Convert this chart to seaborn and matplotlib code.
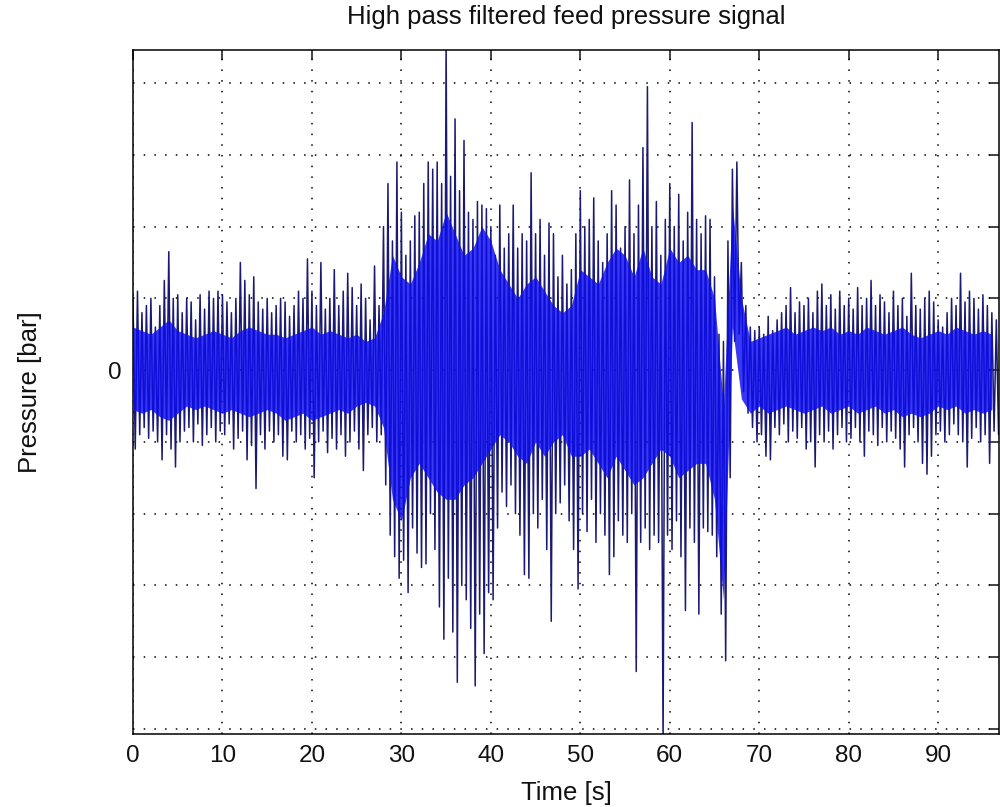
import numpy as np
import pandas as pd
import matplotlib
matplotlib.use("Agg")
import matplotlib.pyplot as plt
import seaborn as sns

# Peak excursions of the filtered pressure signal, one upper and one lower
# extreme every 0.5 s (in grid units, 0 = mean pressure)
peak_hi = [
    1.0, 1.1, 0.8, 0.9, 1.0, 0.6, 0.9, 1.25, 1.65, 1.0, 1.05, 0.8, 1.0, 0.95, 0.7, 1.05,
    0.85, 1.1, 1.0, 1.1, 1.05, 0.95, 0.8, 1.0, 1.5, 1.25, 1.05, 1.3, 0.95, 0.85, 1.0, 0.8,
    0.9, 1.0, 0.95, 0.75, 0.9, 1.1, 1.0, 1.55, 1.1, 0.9, 1.5, 0.85, 1.0, 1.4, 0.9, 1.1,
    1.35, 1.15, 0.9, 1.2, 1.0, 0.7, 1.45, 0.9,
    2.0, 2.6, 1.8, 2.9, 2.2, 1.6, 1.8, 2.15,
    2.2, 2.6, 2.9, 2.8, 2.9, 2.6, 4.6, 2.7,
    3.5, 2.5, 3.2, 2.2, 2.1, 2.35, 2.3, 2.25,
    2.0, 1.6, 2.3, 1.7, 1.9, 2.3, 1.7, 1.9,
    1.8, 2.75, 1.9, 2.1, 1.6, 2.05, 1.9, 1.3,
    1.6, 1.2, 1.4, 1.9, 2.5, 2.0, 2.1, 2.4,
    1.8, 1.5, 1.9, 2.5, 2.3, 1.7, 2.0, 2.65,
    1.9, 2.3, 3.1, 3.95, 2.0, 2.35, 1.6, 2.1,
    2.6, 2.0, 2.45, 1.8, 2.2, 3.45, 2.1, 1.9,
    2.15, 2.1, 1.3, 0.5, 0.4, 1.8, 2.8, 2.9,
    1.5, 0.9, 0.6, 0.55, 0.6, 0.5, 0.75, 0.55,
    0.7, 0.8, 0.9, 1.15, 0.8, 0.95, 0.9, 1.0,
    0.8, 1.1, 1.2, 0.9, 1.05, 0.85, 1.1, 0.9,
    1.0, 0.85, 1.15, 0.9, 1.0, 1.25, 0.9, 1.05,
    0.95, 0.8, 1.1, 0.9, 1.0, 0.75, 1.35, 0.9,
    0.85, 1.0, 1.1, 0.95, 0.7, 0.6, 0.8, 1.0,
    0.9, 1.35, 0.95, 1.1, 1.0, 0.85, 1.05, 0.9, 0.8, 0.7,
]
peak_lo = [
    -1.1, -0.9, -0.8, -0.95, -0.85, -1.0, -1.25, -0.9, -1.1, -1.35, -1.0, -0.85, -0.8, -1.0,
    -0.75, -1.05, -0.9, -0.8, -1.0, -0.85, -0.9, -0.75, -1.1, -0.95, -0.85, -1.25, -1.05,
    -1.65, -0.9, -1.1, -0.85, -1.0, -0.9, -1.2, -1.25, -0.85, -1.0, -0.9, -1.1, -0.95,
    -1.5, -1.0, -0.85, -1.15, -0.95, -1.1, -0.9, -1.2, -1.0, -0.85, -1.1, -1.4, -0.9,
    -0.8, -1.0, -0.9,
    -1.6, -2.3, -2.6, -2.9, -2.65, -3.1, -2.2, -2.55,
    -2.75, -2.7, -2.0, -2.5, -3.3, -3.75, -2.9, -3.65,
    -4.35, -3.0, -3.2, -3.6, -4.4, -3.4, -3.95, -3.1,
    -3.2, -2.2, -1.7, -1.9, -1.6, -2.0, -2.3, -2.85,
    -2.9, -2.0, -2.2, -1.8, -2.5, -3.5, -2.0, -1.85,
    -1.6, -2.1, -2.5, -3.05, -2.0, -2.25, -1.8, -2.4,
    -2.0, -2.3, -2.85, -2.6, -2.1, -2.3, -2.4, -2.0,
    -4.2, -2.4, -2.2, -2.5, -2.3, -2.4, -5.2, -2.3,
    -2.5, -2.1, -2.6, -3.35, -2.2, -2.4, -3.4, -2.2,
    -2.25, -2.3, -2.6, -3.4, -4.05, -1.5, 0.4, 0.5,
    -0.3, -0.6, -0.8, -1.0, -0.9, -1.2, -1.25, -0.8,
    -0.9, -0.75, -1.0, -0.85, -0.95, -0.8, -1.1, -1.0,
    -1.35, -0.9, -1.0, -0.85, -1.1, -0.9, -0.8, -1.0,
    -0.95, -0.8, -1.0, -1.2, -0.85, -0.9, -1.05, -0.8,
    -1.0, -0.85, -0.95, -1.1, -1.35, -0.9, -0.8, -1.0,
    -1.3, -1.45, -1.2, -0.9, -0.85, -1.0, -0.9, -0.75,
    -0.9, -1.0, -1.35, -0.95, -0.8, -1.0, -0.9, -1.3, -0.85, -0.9,
]

# Dense core of the signal, upper and lower edge once per second
core_hi = [
    0.6, 0.55, 0.5, 0.6, 0.7, 0.55, 0.5, 0.45, 0.5, 0.55, 0.5, 0.45, 0.55, 0.6,
    0.55, 0.5, 0.5, 0.45, 0.5, 0.55, 0.6, 0.5, 0.55, 0.5, 0.45, 0.5, 0.4, 0.45,
    0.8, 1.6, 1.3, 1.2, 1.5, 1.9, 1.8, 2.2, 1.9, 1.6, 1.7, 2.0, 1.8, 1.4, 1.2, 1.0,
    1.2, 1.3, 1.1, 0.9,
    0.8, 0.9, 1.4, 1.3, 1.2, 1.5, 1.7, 1.6, 1.3, 1.7, 1.3, 1.2, 1.7, 1.5, 1.6, 1.4,
    1.4, 1.0, -0.5, 2.3, 1.0, 0.4,
    0.45, 0.5, 0.55, 0.6, 0.5, 0.55, 0.6, 0.55, 0.6, 0.5, 0.55, 0.5, 0.6, 0.55,
    0.5, 0.55, 0.6, 0.5, 0.45, 0.5, 0.55, 0.5, 0.6, 0.55, 0.5, 0.55, 0.5,
]
core_lo = [
    -0.55, -0.6, -0.55, -0.65, -0.7, -0.6, -0.5, -0.55, -0.5, -0.55, -0.6, -0.55, -0.6,
    -0.65, -0.6, -0.55, -0.6, -0.7, -0.65, -0.6, -0.7, -0.65, -0.6, -0.55, -0.6, -0.5,
    -0.45, -0.5,
    -0.8, -1.8, -2.1, -1.5, -1.3, -1.5, -1.7, -1.8, -1.8, -1.6, -1.5, -1.3, -1.1, -0.9,
    -1.0, -1.2, -1.3, -1.0, -1.2, -1.0,
    -0.9, -1.2, -1.2, -1.1, -1.3, -1.5, -1.2, -1.4, -1.6, -1.5, -1.3, -1.1, -1.2, -1.5,
    -1.4, -1.3,
    -1.3, -1.8, -3.2, 0.6, -0.4, -0.6,
    -0.5, -0.6, -0.55, -0.5, -0.55, -0.6, -0.55, -0.5, -0.6, -0.55, -0.5, -0.6, -0.55,
    -0.5, -0.6, -0.55, -0.65, -0.6, -0.65, -0.6, -0.5, -0.55, -0.5, -0.6, -0.55, -0.6,
    -0.55,
]

x_ticks = [0, 10, 20, 30, 40, 50, 60, 70, 80, 90]
y_ticks = [-5, -4, -3, -2, -1, 0, 1, 2, 3, 4]

# Sample times
t_peak = np.arange(len(peak_hi)) * 0.5
t_core = np.arange(len(core_hi)) * 1.0

# Alternate upper and lower extremes so the trace swings like the raw signal
sig_t = np.empty(2 * len(t_peak))
sig_p = np.empty(2 * len(t_peak))
sig_t[0::2] = t_peak
sig_t[1::2] = t_peak + 0.25
sig_p[0::2] = peak_hi
sig_p[1::2] = peak_lo
signal = pd.DataFrame({"time": sig_t, "pressure": sig_p})

sns.set_theme(style="white")
plt.rcParams["font.family"] = ["Liberation Sans", "DejaVu Sans"]
plt.rcParams["text.color"] = "#111111"
plt.rcParams["axes.labelcolor"] = "#111111"

fig = plt.figure(figsize=(10.0, 8.07), dpi=100)
ax = fig.add_axes([0.133, 0.0905, 0.866, 0.8475])

sns.lineplot(data=signal, x="time", y="pressure", estimator=None, sort=False,
             color="#1a1a72", linewidth=1.1, ax=ax, zorder=2)
ax.fill_between(t_core, core_lo, core_hi, color="#0c0cf0", alpha=0.82,
                linewidth=0, zorder=3)

ax.set_xlim(0, 96.8)
ax.set_ylim(-5.07, 4.46)
ax.set_xticks(x_ticks)
ax.set_xticklabels([str(v) for v in x_ticks])
ax.set_yticks(y_ticks)
ax.set_yticklabels(["0" if v == 0 else "" for v in y_ticks])

ax.grid(True, color="black", linestyle=(0, (1, 6)), linewidth=1.1)
ax.set_axisbelow(True)
ax.tick_params(axis="both", direction="in", length=7, width=1.1, top=True, right=True,
               labelsize=17.5, pad=8, colors="#111111")
for s in ax.spines.values():
    s.set_color("black")
    s.set_linewidth(1.1)

ax.set_title("High pass filtered feed pressure signal", fontsize=18.5, pad=19)
ax.set_xlabel("Time [s]", fontsize=18.5, labelpad=10)
ax.set_ylabel("Pressure [bar]", fontsize=18.5, labelpad=48)

fig.savefig("out.png", dpi=100)
